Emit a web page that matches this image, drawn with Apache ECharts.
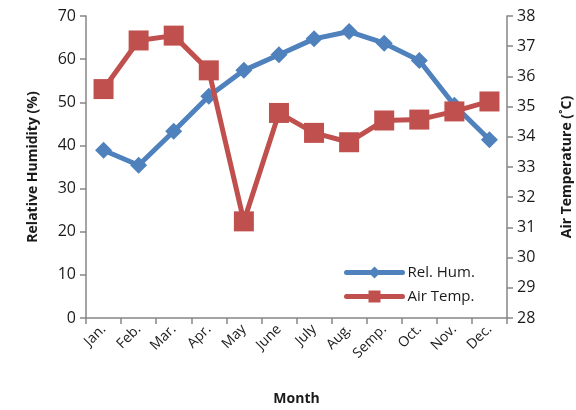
<!DOCTYPE html>
<html>
<head>
<meta charset="utf-8">
<style>
  html, body { margin: 0; padding: 0; background: #ffffff; }
  #chart { width: 576px; height: 410px; }
</style>
<script src="https://cdn.jsdelivr.net/npm/echarts@6/dist/echarts.min.js"></script>
</head>
<body>
<div id="chart"></div>
<script>
// Monthly climate record: relative humidity (left axis) and air temperature (right axis)
const months = ['Jan.', 'Feb.', 'Mar.', 'Apr.', 'May', 'June', 'July', 'Aug.', 'Semp.', 'Oct.', 'Nov.', 'Dec.'];
const relHumidity = [38.9, 35.4, 43.3, 51.4, 57.4, 61.0, 64.7, 66.4, 63.7, 59.7, 49.3, 41.3];
const airTemp = [35.58, 37.19, 37.35, 36.2, 31.2, 34.79, 34.13, 33.82, 34.54, 34.57, 34.84, 35.17];

const axisGrey = '#868686';
const textColor = '#1a1a1a';
const fontFamily = 'Open Sans, Liberation Sans, sans-serif';

const chart = echarts.init(document.getElementById('chart'), null, { renderer: 'canvas' });
chart.setOption({
  animation: false,
  textStyle: { fontFamily: fontFamily },
  grid: { left: 86, right: 69, top: 16, bottom: 92, containLabel: false, outerBoundsMode: 'none' },
  legend: {
    orient: 'vertical',
    left: 339,
    top: 260,
    itemWidth: 56,
    itemHeight: 15,
    itemGap: 9,
    textStyle: { fontSize: 15, color: textColor, fontFamily: fontFamily },
    data: [
      { name: 'Rel. Hum.', lineStyle: { width: 5, cap: 'round' } },
      { name: 'Air Temp.', lineStyle: { width: 5, cap: 'round' } }
    ]
  },
  xAxis: {
    type: 'category',
    data: months,
    boundaryGap: true,
    name: 'Month',
    nameLocation: 'middle',
    nameGap: 74,
    nameTextStyle: { fontSize: 14, fontWeight: 'bold', color: textColor },
    axisLine: { lineStyle: { color: axisGrey, width: 1.5 } },
    axisTick: { show: true, length: 6, inside: false, lineStyle: { color: axisGrey, width: 1.5 } },
    axisLabel: { rotate: 45, fontSize: 14, color: textColor, margin: 9, interval: 0 },
    splitLine: { show: false }
  },
  yAxis: [
    {
      type: 'value',
      min: 0, max: 70, interval: 10,
      position: 'left',
      name: 'Relative Humidity (%)',
      nameLocation: 'middle',
      nameGap: 46,
      nameTextStyle: { fontSize: 14, fontWeight: 'bold', color: textColor },
      axisLine: { show: true, lineStyle: { color: axisGrey, width: 1.5 } },
      axisTick: { show: true, length: 6, lineStyle: { color: axisGrey, width: 1.5 } },
      axisLabel: { fontSize: 16, color: textColor, margin: 10 },
      splitLine: { show: false }
    },
    {
      type: 'value',
      min: 28, max: 38, interval: 1,
      position: 'right',
      name: 'Air Temperature (˚C)',
      nameLocation: 'middle',
      nameGap: 53,
      nameRotate: 90,
      nameTextStyle: { fontSize: 14, fontWeight: 'bold', color: textColor },
      axisLine: { show: true, lineStyle: { color: axisGrey, width: 1.5 } },
      axisTick: { show: true, length: 6, lineStyle: { color: axisGrey, width: 1.5 } },
      axisLabel: { fontSize: 16, color: textColor, margin: 10 },
      splitLine: { show: false }
    }
  ],
  series: [
    {
      name: 'Rel. Hum.',
      type: 'line',
      yAxisIndex: 0,
      data: relHumidity,
      symbol: 'diamond',
      symbolSize: 17,
      lineStyle: { color: '#4F81BD', width: 5 },
      itemStyle: { color: '#4F81BD' },
      z: 2
    },
    {
      name: 'Air Temp.',
      type: 'line',
      yAxisIndex: 1,
      data: airTemp,
      symbol: 'rect',
      symbolSize: 20,
      lineStyle: { color: '#C0504D', width: 5 },
      itemStyle: { color: '#C0504D' },
      z: 3
    }
  ]
});
</script>
</body>
</html>
